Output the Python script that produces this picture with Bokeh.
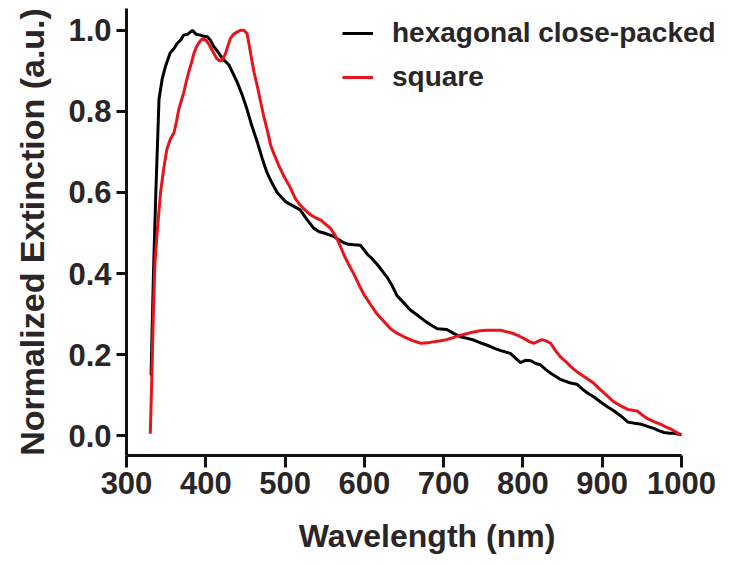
from bokeh.plotting import figure
from bokeh.models import Range1d, FixedTicker, PrintfTickFormatter, Legend, LegendItem
from bokeh.embed import file_html
from bokeh.resources import INLINE

# Hexagonal close-packed (black)
hex_nm = [330, 331, 334, 337, 341, 345, 349, 355, 360, 364, 368, 372, 377, 383, 388, 393, 398, 402,
          406, 410, 416, 421, 429, 434, 440, 446, 452, 458, 465, 471, 477, 483, 490, 500, 510, 519,
          527, 536, 543, 549, 555, 561, 568, 574, 580, 587, 595, 604, 610, 616, 622, 629, 635, 641,
          650, 658, 667, 675, 684, 692, 704, 712, 721, 730, 738, 748, 759, 765, 772, 784, 797, 803,
          810, 816, 822, 829, 835, 847, 860, 868, 875, 881, 890, 898, 906, 915, 924, 932, 940, 948,
          957, 965, 972, 978, 985, 990, 995, 1000]
hex_ext = [0.15, 0.15, 0.40, 0.60, 0.83, 0.88, 0.91, 0.944, 0.955, 0.968, 0.975, 0.988, 0.99, 1.0,
           0.99, 0.988, 0.985, 0.984, 0.975, 0.96, 0.945, 0.93, 0.915, 0.895, 0.87, 0.84, 0.805,
           0.765, 0.724, 0.685, 0.65, 0.625, 0.60, 0.578, 0.567, 0.557, 0.535, 0.512, 0.503, 0.50,
           0.496, 0.492, 0.483, 0.476, 0.472, 0.471, 0.47, 0.447, 0.436, 0.423, 0.408, 0.39, 0.37,
           0.346, 0.327, 0.31, 0.297, 0.285, 0.273, 0.264, 0.262, 0.253, 0.244, 0.24, 0.236, 0.228,
           0.22, 0.215, 0.21, 0.203, 0.18, 0.186, 0.185, 0.178, 0.175, 0.163, 0.154, 0.139, 0.13,
           0.127, 0.115, 0.106, 0.095, 0.083, 0.072, 0.061, 0.048, 0.034, 0.031, 0.029, 0.023,
           0.018, 0.012, 0.008, 0.006, 0.006, 0.004, 0.002]

# Square (red)
sq_nm = [330, 332, 334, 336, 339, 343, 347, 351, 355, 360, 363, 366, 369, 372, 375, 378, 382, 385,
         388, 391, 394, 397, 400, 402, 405, 408, 411, 414, 417, 420, 423, 425, 428, 431, 435, 440,
         444, 448, 452, 455, 458, 461, 465, 469, 473, 478, 482, 487, 492, 498, 505, 513, 519, 525,
         532, 538, 545, 551, 557, 562, 566, 570, 574, 580, 587, 593, 599, 608, 616, 625, 633, 641,
         650, 660, 671, 680, 688, 696, 704, 712, 721, 730, 738, 746, 755, 763, 772, 780, 788, 795,
         801, 808, 814, 819, 824, 829, 835, 841, 847, 854, 860, 868, 877, 883, 889, 895, 902, 908,
         915, 924, 932, 938, 944, 950, 957, 965, 974, 980, 986, 993, 999]
sq_ext = [0.005, 0.15, 0.31, 0.43, 0.51, 0.60, 0.66, 0.707, 0.73, 0.748, 0.775, 0.805, 0.825, 0.845,
          0.87, 0.894, 0.92, 0.943, 0.958, 0.968, 0.976, 0.98, 0.976, 0.971, 0.962, 0.951, 0.94,
          0.93, 0.925, 0.925, 0.935, 0.943, 0.962, 0.98, 0.99, 0.996, 1.0, 1.0, 0.992, 0.96, 0.927,
          0.895, 0.862, 0.825, 0.789, 0.75, 0.715, 0.69, 0.667, 0.642, 0.618, 0.585, 0.569, 0.557,
          0.545, 0.538, 0.532, 0.522, 0.512, 0.498, 0.484, 0.466, 0.447, 0.423, 0.398, 0.373, 0.35,
          0.323, 0.30, 0.281, 0.264, 0.253, 0.244, 0.235, 0.228, 0.229, 0.232, 0.234, 0.237, 0.242,
          0.248, 0.252, 0.256, 0.259, 0.26, 0.26, 0.26, 0.256, 0.252, 0.246, 0.24, 0.232, 0.228,
          0.233, 0.237, 0.234, 0.228, 0.21, 0.195, 0.183, 0.171, 0.158, 0.146, 0.138, 0.13, 0.118,
          0.106, 0.095, 0.083, 0.073, 0.065, 0.063, 0.061, 0.052, 0.042, 0.035, 0.028, 0.022, 0.017,
          0.009, 0.002]

x_ticks = [300, 400, 500, 600, 700, 800, 900, 1000]
y_ticks = [0.0, 0.2, 0.4, 0.6, 0.8, 1.0]
series_names = ["hexagonal close-packed", "square"]
series_colors = ["#000000", "#e8141b"]

FONT = "Liberation Sans"
TXT = "#2a2526"

p = figure(width=727, height=556, output_backend="svg", toolbar_location=None,
           x_range=Range1d(300, 1058), y_range=Range1d(-0.0488, 1.0537),
           min_border_left=126, min_border_right=0, min_border_top=8, min_border_bottom=96)
p.outline_line_color = None
p.xgrid.visible = False
p.ygrid.visible = False
p.background_fill_color = "white"

r1 = p.line(hex_nm, hex_ext, line_color=series_colors[0], line_width=3)
r2 = p.line(sq_nm, sq_ext, line_color=series_colors[1], line_width=3)

for ax in (p.xaxis[0], p.yaxis[0]):
    ax.axis_line_width = 3
    ax.axis_line_color = "#111111"
    ax.major_tick_line_width = 3
    ax.major_tick_line_color = "#111111"
    ax.major_tick_in = 0
    ax.minor_tick_line_color = None
    ax.major_label_text_font = FONT
    ax.major_label_text_font_style = "bold"
    ax.major_label_text_font_size = "31px"
    ax.major_label_text_color = TXT
    ax.axis_label_text_font = FONT
    ax.axis_label_text_font_style = "bold"
    ax.axis_label_text_color = TXT

xa = p.xaxis[0]
xa.bounds = (300, 1000)
xa.ticker = FixedTicker(ticks=x_ticks)
xa.major_tick_out = 12
xa.major_label_standoff = 4
xa.axis_label = "Wavelength (nm)"
xa.axis_label_text_font_size = "32px"
xa.axis_label_standoff = 21

ya = p.yaxis[0]
ya.ticker = FixedTicker(ticks=y_ticks)
ya.formatter = PrintfTickFormatter(format="%.1f")
ya.major_tick_out = 10
ya.major_label_standoff = 5
ya.axis_label = "Normalized Extinction (a.u.)"
ya.axis_label_text_font_size = "34px"
ya.axis_label_standoff = 14

legend = Legend(items=[LegendItem(label=series_names[0], renderers=[r1]),
                       LegendItem(label=series_names[1], renderers=[r2])],
                location=(216, 358), padding=0, margin=0, spacing=4,
                glyph_width=31, glyph_height=40, label_height=40, label_standoff=19,
                label_text_font=FONT, label_text_font_style="bold",
                label_text_font_size="28px", label_text_color=TXT,
                border_line_color=None, background_fill_alpha=0)
p.add_layout(legend, "center")

open("out.html", "w").write(file_html(p, INLINE))
